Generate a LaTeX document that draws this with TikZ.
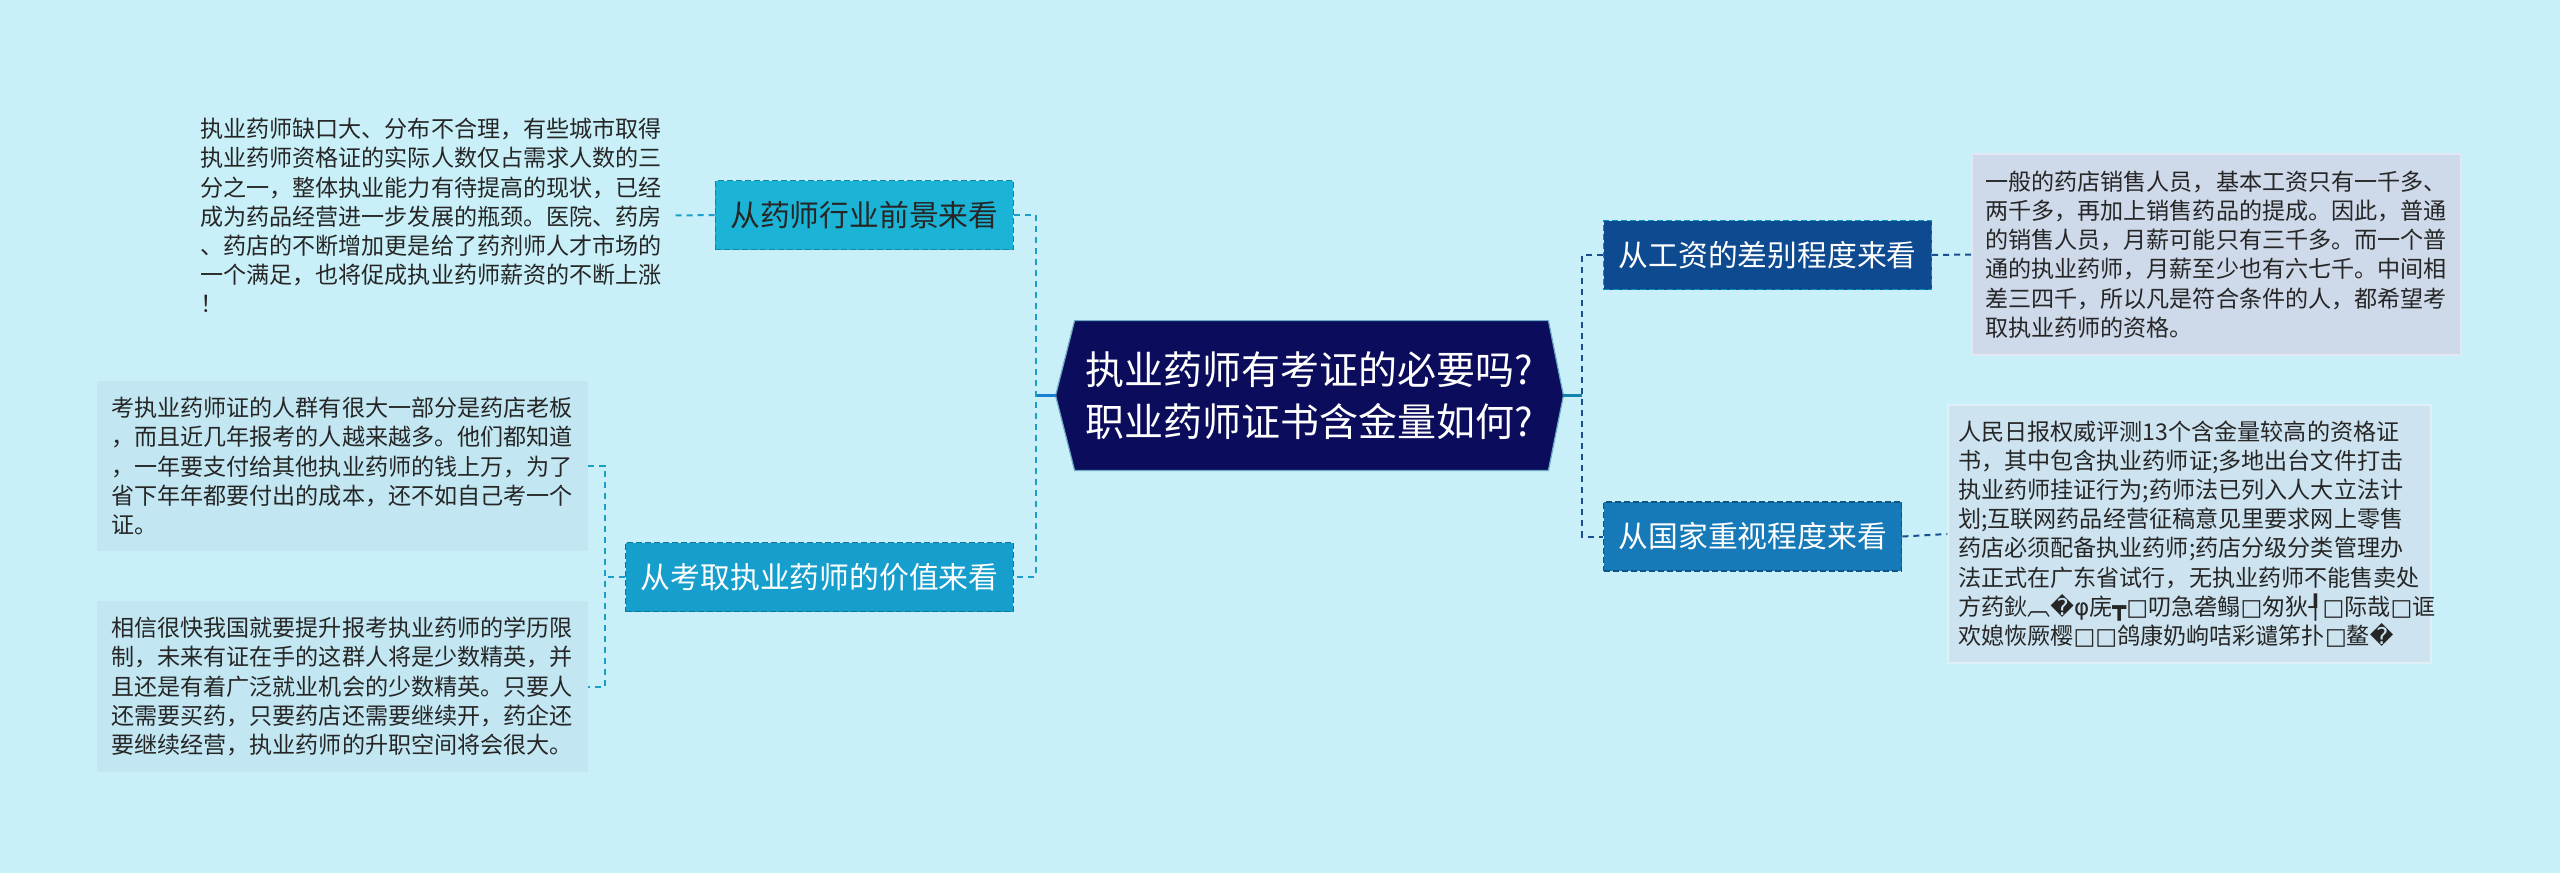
\documentclass[tikz,border=0pt]{standalone}
\usepackage{fontspec}
\setmainfont{Noto Sans CJK SC}
\newfontfamily\symfont{DejaVu Sans}
\usetikzlibrary{calc,backgrounds}
\definecolor{pageBg}{RGB}{201,240,248}
\definecolor{rootC}{RGB}{12,12,92}
\definecolor{cyanA}{RGB}{27,180,214}
\definecolor{cyanB}{RGB}{22,158,204}
\definecolor{navyA}{RGB}{14,74,143}
\definecolor{blueB}{RGB}{22,121,184}
\definecolor{lineL}{RGB}{26,160,200}
\definecolor{lineR}{RGB}{25,78,140}
\definecolor{noteL}{RGB}{194,231,242}
\definecolor{noteA}{RGB}{206,217,234}
\definecolor{noteB}{RGB}{205,228,240}
\newcommand{\sq}{{\symfont □}}
\newcommand{\rp}{{\symfont �}}

\begin{document}
\begin{tikzpicture}[x=0.5pt,y=-0.5pt,
  topic/.style={inner xsep=7.5pt,inner ysep=0pt,minimum height=34.5pt,font=\fontsize{14.9pt}{17pt}\selectfont,
    draw,dash pattern=on 3pt off 1.5pt,line width=0.6pt},
  note/.style={text width=231.5pt,inner xsep=7pt,inner ysep=0pt,align=left,text=black!85,
    font=\fontsize{11.55pt}{14.6pt}\selectfont},
  linkL/.style={lineL,line width=1pt,dash pattern=on 3pt off 2.5pt},
  linkR/.style={lineR,line width=1pt,dash pattern=on 3pt off 2.5pt},
  stemL/.style={lineL!80!blue,line width=1.5pt},
  stemR/.style={lineR!70!cyan,line width=1.5pt}]
\useasboundingbox (0,0) rectangle (2560,873);
% ---------- root ----------
\node[minimum width=253.5pt,minimum height=74.5pt,align=center,text=white,
  font=\fontsize{19.5pt}{26pt}\selectfont] (root) at (1309.5,395.5)
  {执业药师有考证的必要吗?\\职业药师证书含金量如何?};
\begin{scope}[on background layer]
\fill[pageBg] (0,0) rectangle (2560,873);
\filldraw[fill=rootC,draw=rootC!60!cyan!60!white,line width=0.6pt] (root.west) -- ($(root.north west)+(19,0)$) -- ($(root.north east)+(-15,0)$)
  -- (root.east) -- ($(root.south east)+(-15,0)$) -- ($(root.south west)+(19,0)$) -- cycle;
\end{scope}
% ---------- left ----------
\node[topic,fill=cyanA,draw=cyanA!75!black,text=black!85,anchor=east] (topic1) at (1014,215) {从药师行业前景来看};
\node[topic,fill=cyanB,draw=cyanB!75!black,text=white,anchor=east] (topic2) at (1014,577) {从考取执业药师的价值来看};
\node[note,inner xsep=5pt] (noteTop) at (431.5,215.5) {执业药师缺口大、分布不合理，有些城市取得\\
执业药师资格证的实际人数仅占需求人数的三\\
分之一，整体执业能力有待提高的现状，已经\\
成为药品经营进一步发展的瓶颈。医院、药房\\
、药店的不断增加更是给了药剂师人才市场的\\
一个满足，也将促成执业药师薪资的不断上涨\\
！};
\node[note,fill=noteL,minimum height=85pt] (noteL1) at (342.5,466) {考执业药师证的人群有很大一部分是药店老板\\
，而且近几年报考的人越来越多。他们都知道\\
，一年要支付给其他执业药师的钱上万，为了\\
省下年年都要付出的成本，还不如自己考一个\\
证。};
\node[note,fill=noteL,minimum height=85.5pt] (noteL2) at (342.5,686.5) {相信很快我国就要提升报考执业药师的学历限\\
制，未来有证在手的这群人将是少数精英，并\\
且还是有着广泛就业机会的少数精英。只要人\\
还需要买药，只要药店还需要继续开，药企还\\
要继续经营，执业药师的升职空间将会很大。};
\draw[stemL] (root.west) -- ++(-20,0) coordinate (hubL);
\draw[linkL] (topic1.east) -- (topic1.east -| hubL) -- (topic2.east -| hubL) -- (topic2.east);
\draw[linkL] (topic1.west) -- (noteTop.east);
\draw[linkL] (topic2.west) -- ++(-20,0) coordinate (hubL2);
\draw[linkL] (noteL1.east) -- (noteL1.east -| hubL2) -- (noteL2.east -| hubL2) -- (noteL2.east);
% ---------- right ----------
\node[topic,fill=navyA,draw=navyA!60!cyan,text=white,anchor=west] (topicA) at (1603,255) {从工资的差别程度来看};
\node[topic,fill=blueB,draw=blueB!70!black,text=white,anchor=west] (topicB) at (1603,536.5) {从国家重视程度来看};
\node[note,fill=noteA,draw=noteA!60!white,line width=0.6pt,inner xsep=6.5pt,minimum height=100.5pt] (noteA) at (2216.5,254.5)
{一般的药店销售人员，基本工资只有一千多、\\
两千多，再加上销售药品的提成。因此，普通\\
的销售人员，月薪可能只有三千多。而一个普\\
通的执业药师，月薪至少也有六七千。中间相\\
差三四千，所以凡是符合条件的人，都希望考\\
取执业药师的资格。};
\node[note,fill=noteB,draw=noteB!60!white,line width=0.6pt,inner xsep=5pt,minimum height=129pt] (noteB) at (2189.5,534)
{人民日报权威评测13个含金量较高的资格证\\
书，其中包含执业药师证;多地出台文件打击\\
执业药师挂证行为;药师法已列入人大立法计\\
划;互联网药品经营征稿意见里要求网上零售\\
药店必须配备执业药师;药店分级分类管理办\\
法正式在广东省试行，无执业药师不能售卖处\\
方药鈥︹\rp{}{\symfont φ}庑{\symfont ┳}\sq{}叨急砻鳎\sq{}匆狄{\symfont ┦}\sq{}际哉\sq{}诓\\
欢媳恢厥樱\sq\sq{}鸽康奶岣咭彩谴笫扑\sq{}鳌\rp};
\draw[stemR] (root.east) -- ++(19,0) coordinate (hubR);
\draw[linkR] (topicA.west) -- (topicA.west -| hubR) -- (topicB.west -| hubR) -- (topicB.west);
\draw[linkR] (topicA.east) -- (noteA.west);
\draw[linkR] (topicB.east) -- (noteB.west);
\end{tikzpicture}
\end{document}
